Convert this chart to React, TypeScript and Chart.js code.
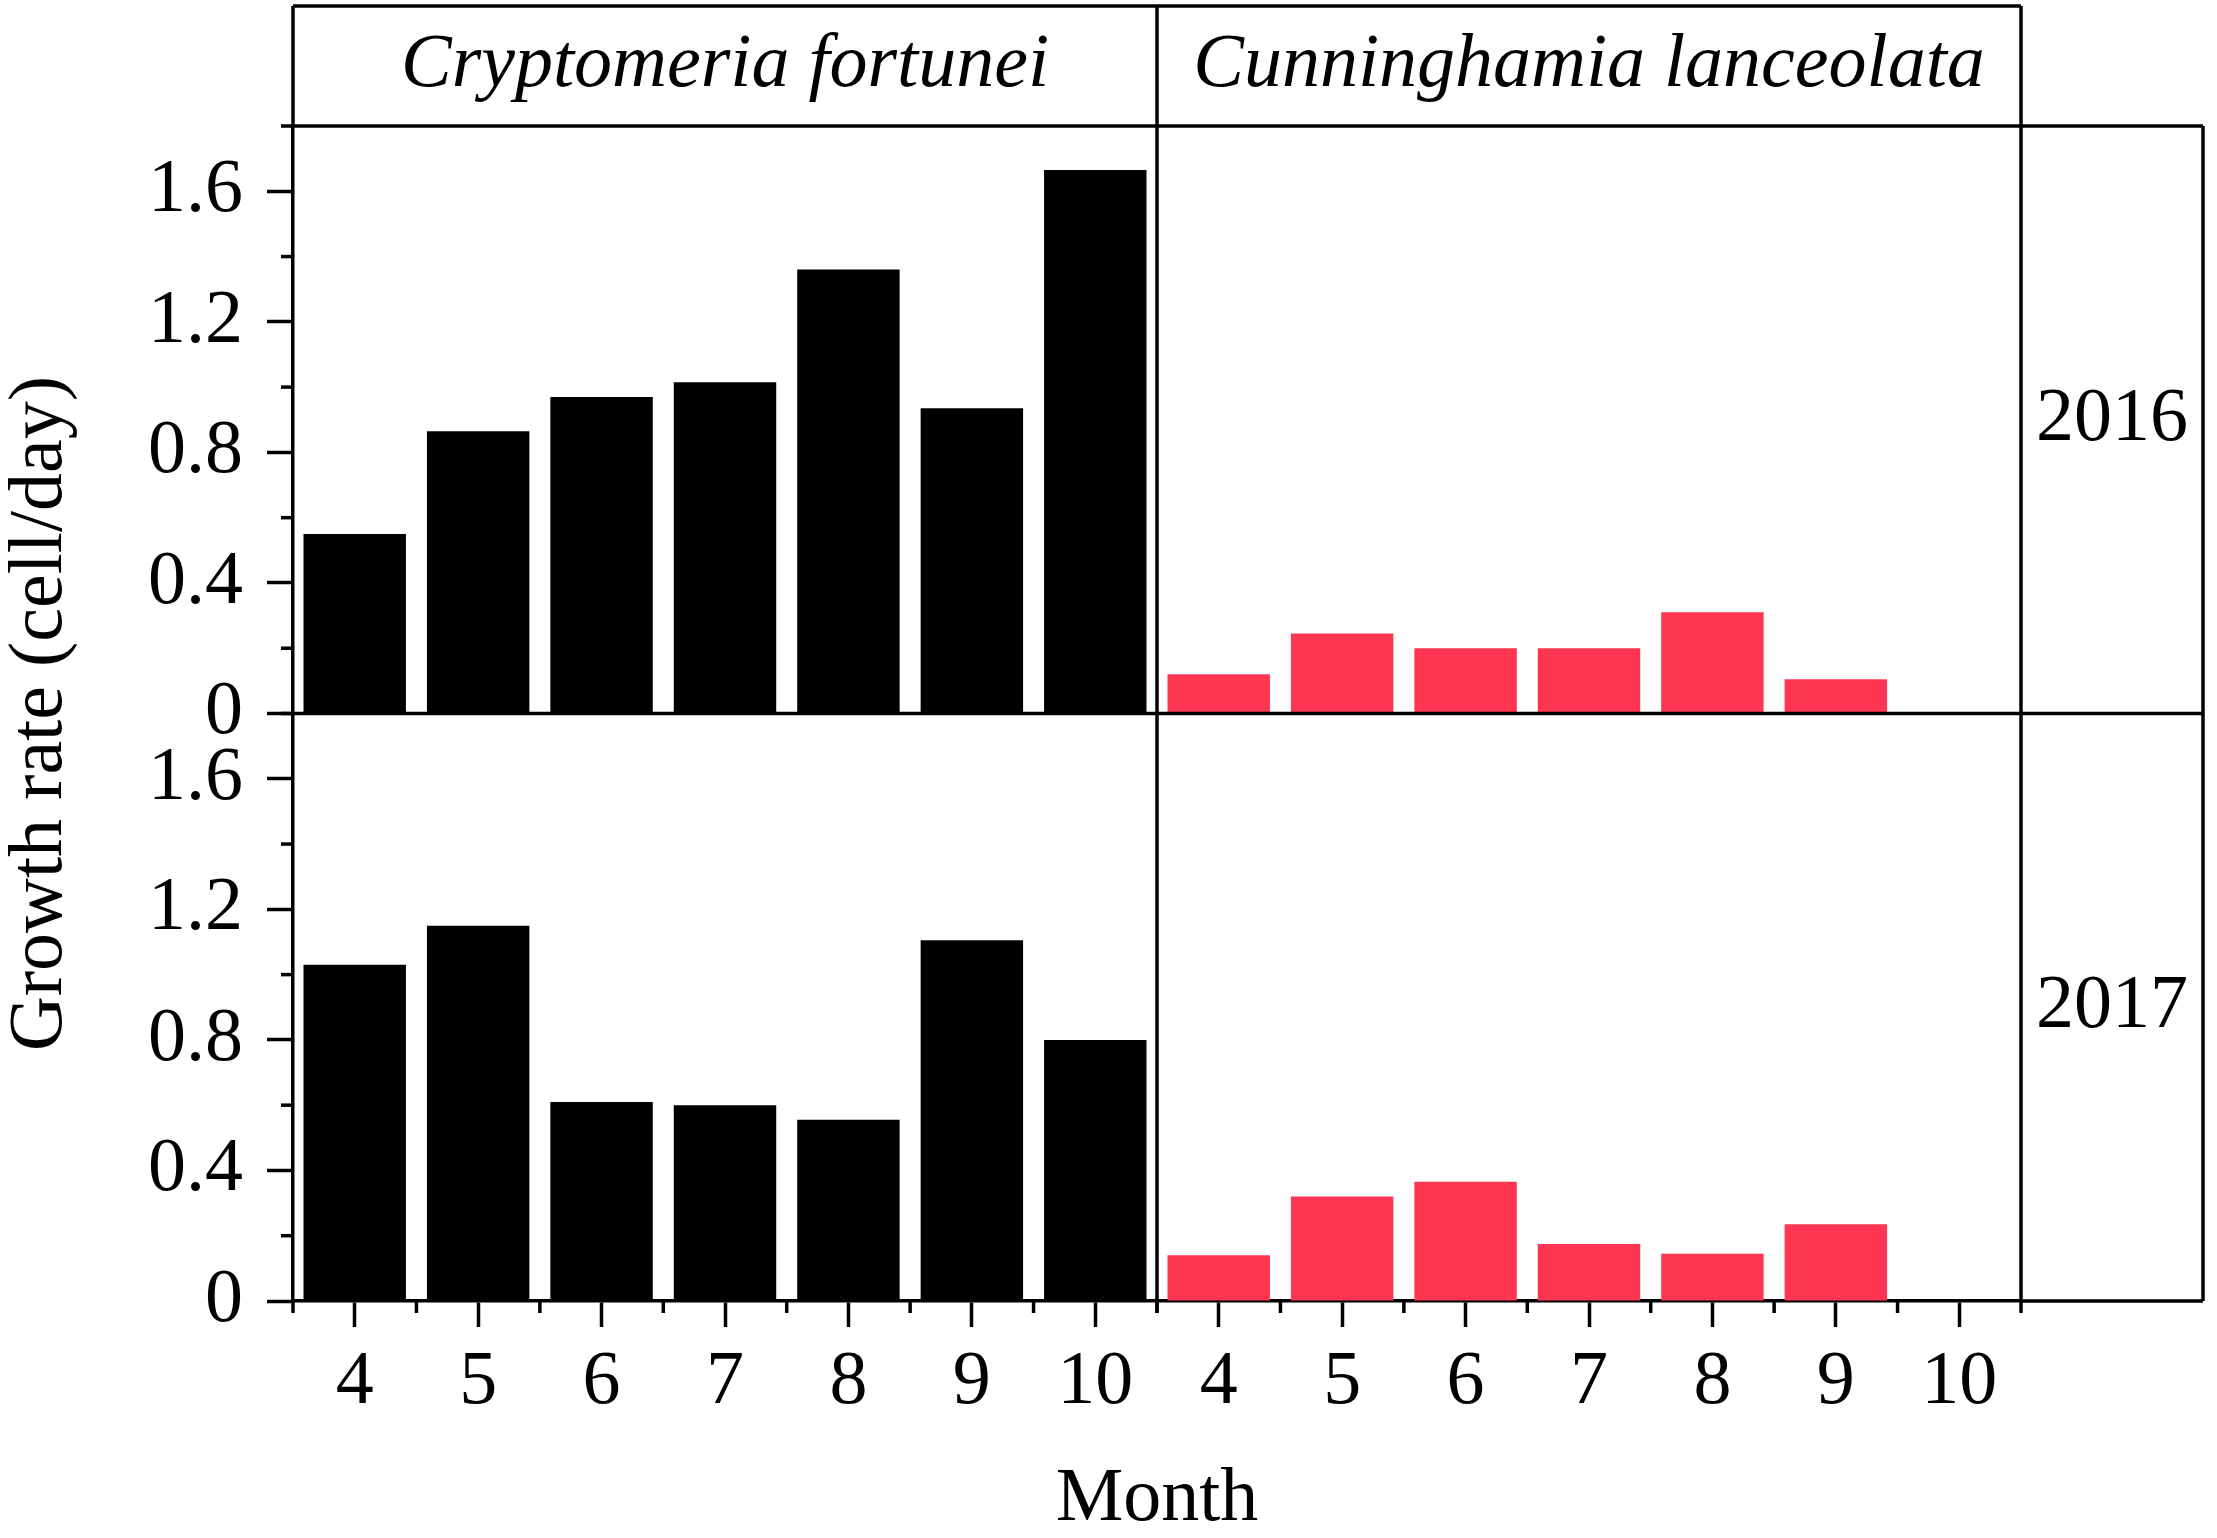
import { useEffect, useRef } from 'react';
import { Chart, registerables } from 'chart.js';

Chart.register(...registerables);

const months = ['4', '5', '6', '7', '8', '9', '10'];
const cryptomeria2016 = [0.55, 0.865, 0.97, 1.015, 1.36, 0.935, 1.665];
const cunninghamia2016 = [0.12, 0.245, 0.2, 0.2, 0.31, 0.105, null];
const cryptomeria2017 = [1.03, 1.15, 0.61, 0.6, 0.555, 1.105, 0.8];
const cunninghamia2017 = [0.14, 0.32, 0.365, 0.175, 0.145, 0.235, null];
const majorTicks = [0, 0.4, 0.8, 1.2, 1.6];
const minorTicks = [0.2, 0.6, 1.0, 1.4, 1.8];
const species = ['Cryptomeria fortunei', 'Cunninghamia lanceolata'];
const years = ['2016', '2017'];

const RED = '#FF3652';
const FAMILY = '"Liberation Serif", "Times New Roman", serif';
const LW = 3.5;

const framePlugin = {
  id: 'frame',
  afterDraw(chart: any) {
    const { ctx, chartArea, scales } = chart;
    const { xL, xR, yT, yB } = scales;
    const left = chartArea.left;
    const mid = xL.right;
    const right = chartArea.right;
    const top = chartArea.top;
    const row = yT.bottom;
    const bottom = chartArea.bottom;
    const stripRight = right + 182;
    const headTop = 6;

    ctx.save();
    ctx.strokeStyle = '#000';
    ctx.lineWidth = LW;
    const line = (x1: number, y1: number, x2: number, y2: number) => {
      ctx.beginPath();
      ctx.moveTo(x1, y1);
      ctx.lineTo(x2, y2);
      ctx.stroke();
    };

    // header box and panel frames
    line(left, headTop, right, headTop);
    line(left, headTop, left, top);
    line(mid, headTop, mid, bottom);
    line(right, headTop, right, bottom);
    line(left, top, stripRight, top);
    line(left, row, stripRight, row);
    line(right, bottom, stripRight, bottom);
    line(stripRight, top, stripRight, bottom);

    // minor ticks
    [yT, yB].forEach((s: any) => {
      minorTicks.forEach((v) => {
        const y = s.getPixelForValue(v);
        line(left - 12, y, left, y);
      });
    });
    [xL, xR].forEach((s: any) => {
      const step = s.getPixelForValue(1) - s.getPixelForValue(0);
      for (let i = 0; i <= months.length; i++) {
        const x = s.getPixelForValue(0) - step / 2 + i * step;
        line(x, bottom, x, bottom + 12);
      }
    });

    // labels
    ctx.fillStyle = '#000';
    ctx.textAlign = 'center';
    ctx.textBaseline = 'middle';
    ctx.font = `italic 76px ${FAMILY}`;
    ctx.fillText(species[0], (left + mid) / 2, (headTop + top) / 2);
    ctx.fillText(species[1], (mid + right) / 2, (headTop + top) / 2);

    ctx.font = `76px ${FAMILY}`;
    ctx.fillText(years[0], (right + stripRight) / 2, (top + row) / 2);
    ctx.fillText(years[1], (right + stripRight) / 2, (row + bottom) / 2);
    ctx.fillText('Month', mid, 1500);

    ctx.translate(41, (top + bottom) / 2);
    ctx.rotate(-Math.PI / 2);
    ctx.fillText('Growth rate (cell/day)', 0, 0);
    ctx.restore();
  },
};

const tickFont = { family: FAMILY, size: 76 };

const yScale = (weight: number) => ({
  type: 'linear',
  position: 'left',
  stack: 'rows',
  weight,
  min: 0,
  max: 1.8,
  afterFit: (s: any) => {
    s.width = 293;
  },
  afterBuildTicks: (s: any) => {
    s.ticks = majorTicks.map((v) => ({ value: v }));
  },
  ticks: {
    font: tickFont,
    color: '#000',
    padding: 24,
    autoSkip: false,
    callback: (v: number | string) => (Number(v) === 0 ? '0' : Number(v).toFixed(1)),
  },
  grid: { drawOnChartArea: false, tickLength: 26, tickWidth: LW, tickColor: '#000' },
  border: { color: '#000', width: LW },
});

const xScale = (weight: number) => ({
  type: 'category',
  position: 'bottom',
  stack: 'cols',
  weight,
  offset: true,
  afterFit: (s: any) => {
    s.height = 237;
  },
  ticks: { font: tickFont, color: '#000', padding: 10, maxRotation: 0, autoSkip: false },
  grid: { drawOnChartArea: false, offset: false, tickLength: 26, tickWidth: LW, tickColor: '#000' },
  border: { color: '#000', width: LW },
});

export default function App() {
  const chartRef = useRef<HTMLCanvasElement>(null);

  useEffect(() => {
    if (!chartRef.current) return;
    const bar = { grouped: false, barPercentage: 0.83, categoryPercentage: 1, borderWidth: 0 };

    const chart = new Chart(chartRef.current, {
      type: 'bar',
      data: {
        labels: months,
        datasets: [
          { ...bar, data: cryptomeria2016, xAxisID: 'xL', yAxisID: 'yT', backgroundColor: '#000' },
          { ...bar, data: cunninghamia2016, xAxisID: 'xR', yAxisID: 'yT', backgroundColor: RED },
          { ...bar, data: cryptomeria2017, xAxisID: 'xL', yAxisID: 'yB', backgroundColor: '#000' },
          { ...bar, data: cunninghamia2017, xAxisID: 'xR', yAxisID: 'yB', backgroundColor: RED },
        ],
      } as any,
      options: {
        responsive: false,
        animation: false,
        layout: { padding: { top: 126, right: 196, left: 0, bottom: 0 } },
        plugins: { legend: { display: false }, tooltip: { enabled: false } },
        scales: {
          xL: xScale(0),
          xR: xScale(1),
          yT: yScale(1),
          yB: yScale(0),
        } as any,
      },
      plugins: [framePlugin],
    });

    return () => {
      chart.destroy();
    };
  }, []);

  return (
    <div style={{ position: 'fixed', left: 0, top: 0, width: 2217, height: 1538, background: '#fff' }}>
      <canvas ref={chartRef} width={2217} height={1538} />
    </div>
  );
}
